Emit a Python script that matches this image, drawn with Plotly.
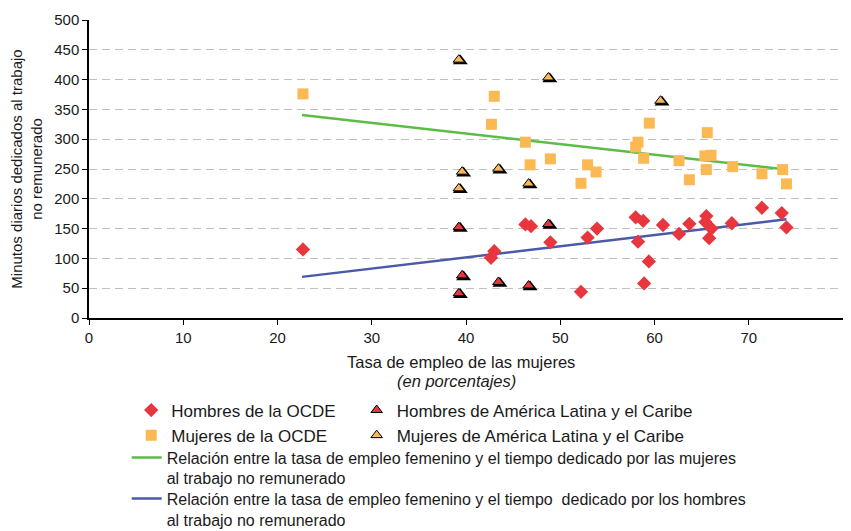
import plotly.graph_objects as go

# ---- data ----
men_oecd_x = [22.7, 42.65, 43.0, 46.3, 46.9, 48.95, 52.2, 52.9, 53.9, 58.0, 58.25, 58.8, 58.9,
              59.4, 60.9, 62.6, 63.7, 65.4, 65.5, 65.8, 66.05, 68.2, 71.4, 73.5, 74.0]
men_oecd_y = [115, 101, 112, 157, 154, 127, 44, 135, 150, 169, 128, 163, 58,
              95, 156, 141, 158, 161, 171, 134, 150, 159, 185, 176, 152]

women_oecd_x = [22.7, 42.7, 43.0, 46.3, 46.8, 48.95, 52.2, 52.9, 53.8, 58.0, 58.25, 58.85,
                59.45, 62.6, 63.7, 65.35, 65.5, 65.6, 66.0, 68.3, 71.4, 73.6, 74.0]
women_oecd_y = [376, 325, 372, 295, 257, 267, 226, 257, 245, 287, 295, 268,
                327, 264, 232, 272, 249, 311, 273, 254, 242, 249, 225]

men_lac_x = [39.4, 39.75, 39.4, 43.6, 46.8, 48.9]
men_lac_y = [150, 69, 39, 58, 52, 155]

women_lac_x = [39.4, 39.75, 39.4, 43.6, 46.8, 48.9, 60.8]
women_lac_y = [431, 243, 215, 248, 223, 401, 362]

trend_x = [22.6, 74.0]
women_trend_y = [340.5, 249.0]
men_trend_y = [69.0, 165.5]

x_ticks = [0, 10, 20, 30, 40, 50, 60, 70, 80]
y_ticks = [0, 50, 100, 150, 200, 250, 300, 350, 400, 450, 500]

names = {
    "men_oecd": "Hombres de la OCDE",
    "men_lac": "Hombres de América Latina y el Caribe",
    "women_oecd": "Mujeres de la OCDE",
    "women_lac": "Mujeres de América Latina y el Caribe",
    "women_trend": "Relación entre la tasa de empleo femenino y el tiempo dedicado por las mujeres<br>al trabajo no remunerado",
    "men_trend": "Relación entre la tasa de empleo femenino y el tiempo  dedicado por los hombres<br>al trabajo no remunerado",
}

RED = "#E8363F"
ORANGE = "#FBB954"
GREEN = "#5BBD46"
BLUE = "#4A5AA8"
FONT = "Liberation Sans, Arial, sans-serif"
TXT = "#1a1a1a"

X_RANGE = [0, 80]
Y_RANGE = [0, 500]
# small pixel offset (via a hidden overlay axis) gives triangles their dark "shadow" edge
SHIFT_X = 0.16   # axis units (~1.5 px)
SHIFT_Y = 2.5    # axis units (~1.5 px)

fig = go.Figure()

fig.add_trace(go.Scatter(x=trend_x, y=women_trend_y, mode="lines", name=names["women_trend"],
                         line=dict(color=GREEN, width=2.5), legend="legend3"))
fig.add_trace(go.Scatter(x=trend_x, y=men_trend_y, mode="lines", name=names["men_trend"],
                         line=dict(color=BLUE, width=2.5), legend="legend4"))

fig.add_trace(go.Scatter(x=women_oecd_x, y=women_oecd_y, mode="markers", name=names["women_oecd"],
                         marker=dict(symbol="square", size=11, color=ORANGE), legend="legend", legendrank=2))
fig.add_trace(go.Scatter(x=men_oecd_x, y=men_oecd_y, mode="markers", name=names["men_oecd"],
                         marker=dict(symbol="diamond", size=11, color=RED), legend="legend", legendrank=1))

# black shadow triangles
fig.add_trace(go.Scatter(x=women_lac_x, y=women_lac_y, mode="markers", showlegend=False, hoverinfo="skip",
                         marker=dict(symbol="triangle-up", size=13, color="black")))
fig.add_trace(go.Scatter(x=men_lac_x, y=men_lac_y, mode="markers", showlegend=False, hoverinfo="skip",
                         marker=dict(symbol="triangle-up", size=13, color="black")))
# coloured triangles, nudged up-left
fig.add_trace(go.Scatter(x=women_lac_x, y=women_lac_y, mode="markers", name=names["women_lac"],
                         xaxis="x2", yaxis="y2",
                         marker=dict(symbol="triangle-up", size=10, color=ORANGE,
                                     line=dict(color="black", width=1)), legend="legend2", legendrank=2))
fig.add_trace(go.Scatter(x=men_lac_x, y=men_lac_y, mode="markers", name=names["men_lac"],
                         xaxis="x2", yaxis="y2",
                         marker=dict(symbol="triangle-up", size=10, color=RED,
                                     line=dict(color="black", width=1)), legend="legend2", legendrank=1))

legend_common = dict(orientation="v", xanchor="left", yanchor="top", bgcolor="rgba(0,0,0,0)",
                     itemclick=False, tracegroupgap=0)
MARK_FONT = dict(family=FONT, size=17, color=TXT)
LINE_FONT = dict(family=FONT, size=16, color=TXT)

# The page body adds an 8px offset, so the figure is 8px smaller and margins shifted.
fig.update_layout(
    width=843, height=523,
    margin=dict(l=81, r=8, t=12, b=213, autoexpand=False),
    paper_bgcolor="white", plot_bgcolor="white",
    font=dict(family=FONT, size=15, color=TXT),
    xaxis=dict(range=X_RANGE, tickvals=x_ticks, showgrid=False, zeroline=False, automargin=False,
               showline=True, linecolor="black", linewidth=1.5,
               ticks="outside", ticklen=5, tickcolor="black",
               tickfont=dict(family=FONT, size=15, color=TXT)),
    yaxis=dict(range=Y_RANGE, tickvals=y_ticks, showgrid=True, gridcolor="#BFBFBF",
               griddash="8px,5px", gridwidth=1, zeroline=False, automargin=False,
               showline=True, linecolor="black", linewidth=1.5,
               ticks="outside", ticklen=5, tickcolor="black",
               tickfont=dict(family=FONT, size=15, color=TXT),
               title=dict(text="Minutos diarios dedicados al trabajo<br>no remunerado",
                          font=dict(family=FONT, size=15, color=TXT), standoff=12)),
    xaxis2=dict(overlaying="x", range=[X_RANGE[0] + SHIFT_X, X_RANGE[1] + SHIFT_X], visible=False),
    yaxis2=dict(overlaying="y", range=[Y_RANGE[0] - SHIFT_Y, Y_RANGE[1] - SHIFT_Y], visible=False),
    legend=dict(x=0.056, y=-0.25, font=MARK_FONT, **legend_common),
    legend2=dict(x=0.355, y=-0.25, font=MARK_FONT, **legend_common),
    legend3=dict(x=0.050, y=-0.411, valign="top", font=LINE_FONT, **legend_common),
    legend4=dict(x=0.050, y=-0.549, valign="top", font=LINE_FONT, **legend_common),
    showlegend=True,
    annotations=[
        dict(text="Tasa de empleo de las mujeres", xref="paper", yref="paper", x=0.493, y=-0.148,
             showarrow=False, xanchor="center", yanchor="middle",
             font=dict(family=FONT, size=16.5, color=TXT)),
        dict(text="<i>(en porcentajes)</i>", xref="paper", yref="paper", x=0.487, y=-0.211,
             showarrow=False, xanchor="center", yanchor="middle",
             font=dict(family=FONT, size=16.5, color=TXT)),
    ],
)

fig.write_html("out.html")
